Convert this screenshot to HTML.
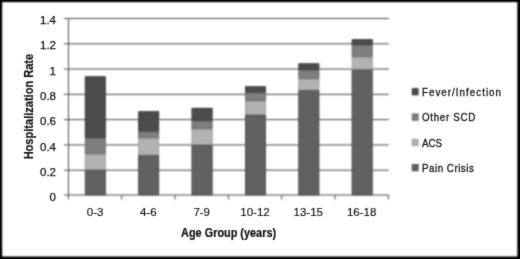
<!DOCTYPE html>
<html><head><meta charset="utf-8">
<style>
html{margin:0;padding:0;background:#fff;}
body{margin:0;padding:0;background:#000;}
body{width:520px;height:259px;overflow:hidden;position:relative;}
svg{position:absolute;left:0;top:0;}
text{font-family:"Liberation Sans",sans-serif;}
.t{fill:#111;stroke:#111;stroke-width:0.25px;}
.b{fill:#111;font-weight:bold;stroke:#111;stroke-width:0.2px;}
</style></head>
<body>
<svg width="520" height="259" viewBox="0 0 520 259">
<defs><filter id="bl" x="-5%" y="-5%" width="110%" height="110%" color-interpolation-filters="sRGB"><feConvolveMatrix order="5" kernelMatrix="0.00087 0.00695 0.01388 0.00695 0.00087 0.00695 0.05540 0.11068 0.05540 0.00695 0.01388 0.11068 0.22111 0.11068 0.01388 0.00695 0.05540 0.11068 0.05540 0.00695 0.00087 0.00695 0.01388 0.00695 0.00087" divisor="1" edgeMode="none" preserveAlpha="false"/></filter><filter id="bt" x="-5%" y="-5%" width="110%" height="110%" color-interpolation-filters="sRGB"><feConvolveMatrix order="5" kernelMatrix="0.00000 0.00003 0.00021 0.00003 0.00000 0.00003 0.01133 0.08373 0.01133 0.00003 0.00021 0.08373 0.61869 0.08373 0.00021 0.00003 0.01133 0.08373 0.01133 0.00003 0.00000 0.00003 0.00021 0.00003 0.00000" divisor="1" edgeMode="none" preserveAlpha="false"/></filter></defs>
<g filter="url(#bl)">
<rect x="2.15" y="2.1" width="515.15" height="254.4" fill="#fff"/>
<g stroke="#444" stroke-width="1" fill="none"><line x1="64" y1="170.21" x2="388.8" y2="170.21"/><line x1="64" y1="144.93" x2="388.8" y2="144.93"/><line x1="64" y1="119.64" x2="388.8" y2="119.64"/><line x1="64" y1="94.36" x2="388.8" y2="94.36"/><line x1="64" y1="69.07" x2="388.8" y2="69.07"/><line x1="64" y1="43.79" x2="388.8" y2="43.79"/><line x1="64" y1="18.50" x2="388.8" y2="18.50"/></g>
<g><rect x="84.90" y="76.4" width="20.8" height="61.90" fill="#4b4b4b"/><rect x="85.40" y="76.9" width="19.8" height="60.90" fill="none" stroke="#404040" stroke-width="1"/><rect x="84.90" y="138.3" width="20.8" height="15.90" fill="#7e7e7e"/><rect x="85.40" y="138.8" width="19.8" height="14.90" fill="none" stroke="#6e6e6e" stroke-width="1"/><rect x="84.90" y="154.2" width="20.8" height="15.70" fill="#b2b2b2"/><rect x="85.40" y="154.7" width="19.8" height="14.70" fill="none" stroke="#a0a0a0" stroke-width="1"/><rect x="84.90" y="169.9" width="20.8" height="25.30" fill="#616161"/><rect x="85.40" y="170.4" width="19.8" height="24.30" fill="none" stroke="#505050" stroke-width="1"/><rect x="138.28" y="111.3" width="20.8" height="20.45" fill="#4b4b4b"/><rect x="138.78" y="111.8" width="19.8" height="19.45" fill="none" stroke="#404040" stroke-width="1"/><rect x="138.28" y="131.75" width="20.8" height="6.55" fill="#7e7e7e"/><rect x="138.78" y="132.25" width="19.8" height="5.55" fill="none" stroke="#6e6e6e" stroke-width="1"/><rect x="138.28" y="138.3" width="20.8" height="17.10" fill="#b2b2b2"/><rect x="138.78" y="138.8" width="19.8" height="16.10" fill="none" stroke="#a0a0a0" stroke-width="1"/><rect x="138.28" y="155.4" width="20.8" height="39.80" fill="#616161"/><rect x="138.78" y="155.9" width="19.8" height="38.80" fill="none" stroke="#505050" stroke-width="1"/><rect x="191.66" y="107.9" width="20.8" height="13.00" fill="#4b4b4b"/><rect x="192.16" y="108.4" width="19.8" height="12.00" fill="none" stroke="#404040" stroke-width="1"/><rect x="191.66" y="120.9" width="20.8" height="8.30" fill="#7e7e7e"/><rect x="192.16" y="121.4" width="19.8" height="7.30" fill="none" stroke="#6e6e6e" stroke-width="1"/><rect x="191.66" y="129.2" width="20.8" height="15.70" fill="#b2b2b2"/><rect x="192.16" y="129.7" width="19.8" height="14.70" fill="none" stroke="#a0a0a0" stroke-width="1"/><rect x="191.66" y="144.9" width="20.8" height="50.30" fill="#616161"/><rect x="192.16" y="145.4" width="19.8" height="49.30" fill="none" stroke="#505050" stroke-width="1"/><rect x="245.04" y="86.3" width="20.8" height="6.50" fill="#4b4b4b"/><rect x="245.54" y="86.8" width="19.8" height="5.50" fill="none" stroke="#404040" stroke-width="1"/><rect x="245.04" y="92.8" width="20.8" height="8.30" fill="#7e7e7e"/><rect x="245.54" y="93.3" width="19.8" height="7.30" fill="none" stroke="#6e6e6e" stroke-width="1"/><rect x="245.04" y="101.1" width="20.8" height="13.80" fill="#b2b2b2"/><rect x="245.54" y="101.6" width="19.8" height="12.80" fill="none" stroke="#a0a0a0" stroke-width="1"/><rect x="245.04" y="114.9" width="20.8" height="80.30" fill="#616161"/><rect x="245.54" y="115.4" width="19.8" height="79.30" fill="none" stroke="#505050" stroke-width="1"/><rect x="298.42" y="63.4" width="20.8" height="6.80" fill="#4b4b4b"/><rect x="298.92" y="63.9" width="19.8" height="5.80" fill="none" stroke="#404040" stroke-width="1"/><rect x="298.42" y="70.2" width="20.8" height="8.70" fill="#7e7e7e"/><rect x="298.92" y="70.7" width="19.8" height="7.70" fill="none" stroke="#6e6e6e" stroke-width="1"/><rect x="298.42" y="78.9" width="20.8" height="11.50" fill="#b2b2b2"/><rect x="298.92" y="79.4" width="19.8" height="10.50" fill="none" stroke="#a0a0a0" stroke-width="1"/><rect x="298.42" y="90.4" width="20.8" height="104.80" fill="#616161"/><rect x="298.92" y="90.9" width="19.8" height="103.80" fill="none" stroke="#505050" stroke-width="1"/><rect x="351.80" y="39.3" width="20.8" height="6.00" fill="#4b4b4b"/><rect x="352.30" y="39.8" width="19.8" height="5.00" fill="none" stroke="#404040" stroke-width="1"/><rect x="351.80" y="45.3" width="20.8" height="12.00" fill="#7e7e7e"/><rect x="352.30" y="45.8" width="19.8" height="11.00" fill="none" stroke="#6e6e6e" stroke-width="1"/><rect x="351.80" y="57.3" width="20.8" height="12.40" fill="#b2b2b2"/><rect x="352.30" y="57.8" width="19.8" height="11.40" fill="none" stroke="#a0a0a0" stroke-width="1"/><rect x="351.80" y="69.7" width="20.8" height="125.50" fill="#616161"/><rect x="352.30" y="70.2" width="19.8" height="124.50" fill="none" stroke="#505050" stroke-width="1"/></g>
<g stroke="#4a4a4a" stroke-width="1" fill="none"><line x1="64" y1="195.0" x2="388.8" y2="195.0"/><line x1="68.5" y1="18" x2="68.5" y2="199.5"/><line x1="121.73" y1="195" x2="121.73" y2="199.5"/><line x1="175.06" y1="195" x2="175.06" y2="199.5"/><line x1="228.39" y1="195" x2="228.39" y2="199.5"/><line x1="281.72" y1="195" x2="281.72" y2="199.5"/><line x1="335.05" y1="195" x2="335.05" y2="199.5"/><line x1="388.38" y1="195" x2="388.38" y2="199.5"/></g>
<g><rect x="411.9" y="88.20" width="6.5" height="7" fill="#4b4b4b"/><rect x="412.4" y="88.70" width="5.5" height="6" fill="none" stroke="#404040" stroke-width="1"/><rect x="411.9" y="113.60" width="6.5" height="7" fill="#7e7e7e"/><rect x="412.4" y="114.10" width="5.5" height="6" fill="none" stroke="#6e6e6e" stroke-width="1"/><rect x="411.9" y="138.90" width="6.5" height="7" fill="#b2b2b2"/><rect x="412.4" y="139.40" width="5.5" height="6" fill="none" stroke="#a0a0a0" stroke-width="1"/><rect x="411.9" y="164.10" width="6.5" height="7" fill="#616161"/><rect x="412.4" y="164.60" width="5.5" height="6" fill="none" stroke="#505050" stroke-width="1"/></g>
</g>
<g filter="url(#bt)">
<g class="t" font-size="11.5" text-anchor="end"><text x="56" y="201.20">0</text><text x="56" y="175.91">0.2</text><text x="56" y="150.63">0.4</text><text x="56" y="125.34">0.6</text><text x="56" y="100.06">0.8</text><text x="56" y="74.77">1</text><text x="56" y="49.49">1.2</text><text x="56" y="24.20">1.4</text></g>
<g class="t" font-size="11.5" text-anchor="middle" style="stroke-width:0.15px"><text x="95.10" y="216.3">0-3</text><text x="148.40" y="216.3">4-6</text><text x="201.70" y="216.3">7-9</text><text x="255.00" y="216.3">10-12</text><text x="308.30" y="216.3">13-15</text><text x="361.60" y="216.3">16-18</text></g>
<text class="b" font-size="12" text-anchor="middle" x="228.6" y="237.0" textLength="95" lengthAdjust="spacingAndGlyphs">Age Group (years)</text>
<text class="b" font-size="12" text-anchor="middle" transform="translate(33.0,106.6) rotate(-90)" textLength="105.5" lengthAdjust="spacingAndGlyphs">Hospitalization Rate</text>
<g class="t" font-size="11.5" style="stroke-width:0.3px;font-weight:normal"><text transform="translate(422,95.9) scale(0.85,1)" textLength="92.94" lengthAdjust="spacing">Fever/Infection</text><text transform="translate(422,121.3) scale(0.85,1)" textLength="62.71" lengthAdjust="spacing">Other SCD</text><text transform="translate(422,146.6) scale(0.85,1)" textLength="23.65" lengthAdjust="spacing">ACS</text><text transform="translate(422,171.8) scale(0.85,1)" textLength="60.94" lengthAdjust="spacing">Pain Crisis</text></g>
</g>
</svg>
</body></html>
